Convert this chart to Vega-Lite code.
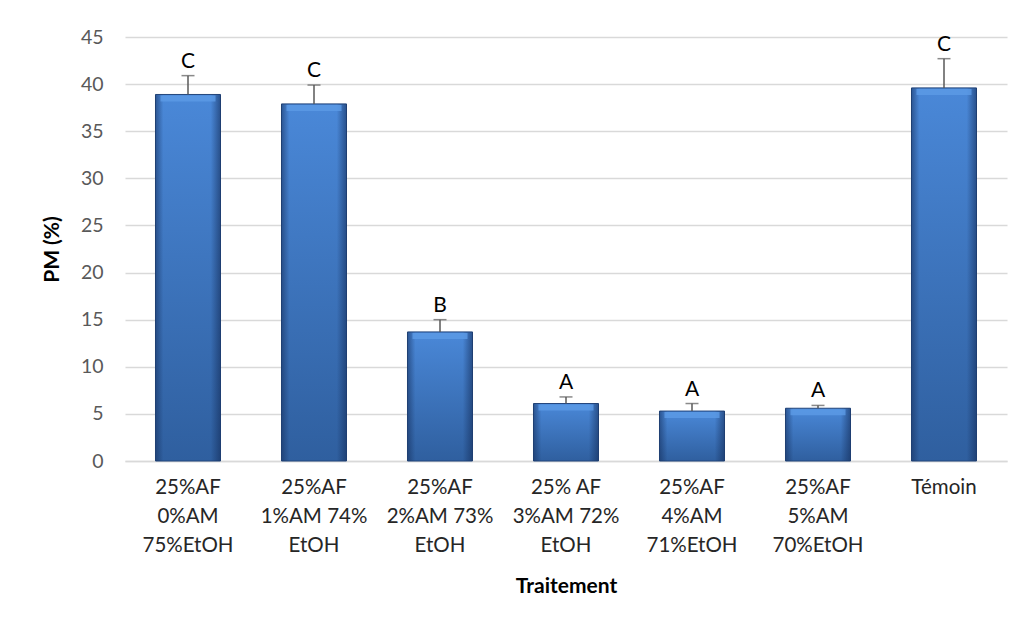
{
  "$schema": "https://vega.github.io/schema/vega-lite/v6.json",
  "width": 882,
  "height": 424,
  "autosize": {"type": "none"},
  "padding": {"left": 125, "top": 37, "right": 19, "bottom": 168},
  "background": "white",
  "config": {"view": {"stroke": null}, "font": "Lato"},
  "data": {
    "values": [
      {"trt": "25%AF|0%AM|75%EtOH", "pm": 38.9, "hi": 40.9, "letter": "C"},
      {"trt": "25%AF|1%AM 74%|EtOH", "pm": 37.9, "hi": 39.9, "letter": "C"},
      {"trt": "25%AF|2%AM 73%|EtOH", "pm": 13.7, "hi": 15.0, "letter": "B"},
      {"trt": "25% AF|3%AM 72%|EtOH", "pm": 6.1, "hi": 6.8, "letter": "A"},
      {"trt": "25%AF|4%AM|71%EtOH", "pm": 5.3, "hi": 6.1, "letter": "A"},
      {"trt": "25%AF|5%AM|70%EtOH", "pm": 5.6, "hi": 5.9, "letter": "A"},
      {"trt": "Témoin", "pm": 39.6, "hi": 42.7, "letter": "C"}
    ]
  },
  "encoding": {
    "x": {
      "field": "trt",
      "type": "nominal",
      "sort": null,
      "scale": {"paddingInner": 0.484, "paddingOuter": 0.242},
      "axis": {
        "title": "Traitement",
        "titleFont": "Lato",
        "titleFontSize": 21,
        "titleFontWeight": "bold",
        "titleColor": "#000000",
        "titlePadding": 20,
        "labelExpr": "split(datum.value, '|')",
        "labelAngle": 0,
        "labelFontSize": 20.5,
        "labelColor": "#262626",
        "labelLineHeight": 29,
        "labelPadding": 16,
        "ticks": false,
        "domainColor": "#d9d9d9",
        "domainWidth": 1.5
      }
    }
  },
  "layer": [
    {
      "mark": {
        "type": "bar",
        "stroke": "#23467c",
        "strokeWidth": 1,
        "color": {
          "gradient": "linear",
          "x1": 0, "y1": 0, "x2": 0, "y2": 1,
          "stops": [
            {"offset": 0, "color": "#4a88d8"},
            {"offset": 1, "color": "#2f5f9f"}
          ]
        }
      },
      "encoding": {
        "y": {
          "field": "pm",
          "type": "quantitative",
          "scale": {"domain": [0, 45]},
          "axis": {
            "title": "PM (%)",
            "titleFont": "Lato",
            "titleFontSize": 21,
            "titleFontWeight": "bold",
            "titleColor": "#000000",
            "titlePadding": 18,
            "values": [0, 5, 10, 15, 20, 25, 30, 35, 40, 45],
            "labelFontSize": 19.5,
            "labelColor": "#595959",
            "labelPadding": 22,
            "ticks": false,
            "domain": false,
            "gridColor": "#d9d9d9",
            "gridWidth": 1.5
          }
        }
      }
    },
    {
      "mark": {
        "type": "bar",
        "color": {
          "gradient": "linear",
          "x1": 0, "y1": 0, "x2": 1, "y2": 0,
          "stops": [
            {"offset": 0, "color": "rgba(20,45,90,0.55)"},
            {"offset": 0.12, "color": "rgba(20,45,90,0.0)"},
            {"offset": 0.85, "color": "rgba(20,45,90,0.0)"},
            {"offset": 1, "color": "rgba(20,45,90,0.6)"}
          ]
        }
      },
      "encoding": {"y": {"field": "pm", "type": "quantitative"}}
    },
    {
      "mark": {"type": "tick", "color": "#5d9be6", "thickness": 6, "size": 55, "yOffset": 4, "opacity": 0.8},
      "encoding": {"y": {"field": "pm", "type": "quantitative"}}
    },
    {
      "mark": {"type": "rule", "color": "#595959", "strokeWidth": 1.5},
      "encoding": {
        "y": {"field": "pm", "type": "quantitative"},
        "y2": {"field": "hi"}
      }
    },
    {
      "mark": {"type": "tick", "color": "#595959", "thickness": 1.5, "size": 13},
      "encoding": {"y": {"field": "hi", "type": "quantitative"}}
    },
    {
      "mark": {"type": "text", "baseline": "bottom", "dy": -4, "fontSize": 21, "color": "#000000", "font": "Lato"},
      "encoding": {
        "y": {"field": "hi", "type": "quantitative"},
        "text": {"field": "letter"}
      }
    }
  ]
}
